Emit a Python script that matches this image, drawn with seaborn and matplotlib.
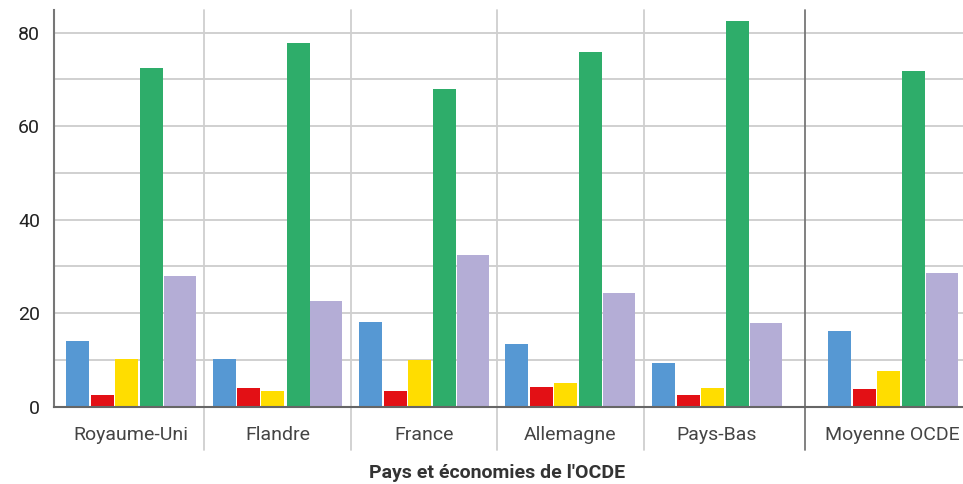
import pandas as pd
import seaborn as sns
import matplotlib.pyplot as plt

# Données
pays = ["Royaume-Uni", "Flandre", "France", "Allemagne", "Pays-Bas", "Moyenne OCDE"]
positions = [0, 1, 2, 3, 4, 5.2]   # Moyenne OCDE décalée
serie_bleue = [14.0, 10.2, 18.1, 13.4, 9.3, 16.2]
serie_rouge = [2.5, 4.0, 3.4, 4.3, 2.5, 3.8]
serie_jaune = [10.2, 3.4, 10.0, 5.1, 4.0, 7.6]
serie_verte = [72.4, 77.8, 67.9, 75.8, 82.5, 71.8]
serie_lavande = [27.9, 22.6, 32.4, 24.3, 17.9, 28.6]

series = [
    (serie_bleue, "#5698D3", -0.365, 0.157),
    (serie_rouge, "#E31015", -0.195, 0.157),
    (serie_jaune, "#FFDD00", -0.031, 0.157),
    (serie_verte, "#2EAD6A", 0.140, 0.157),
    (serie_lavande, "#B4ADD6", 0.334, 0.218),
]

sns.set_theme(style="white")
plt.rcParams['font.family'] = ['Roboto', 'DejaVu Sans']

fig = plt.figure(figsize=(9.63, 4.84), dpi=100)
ax = fig.add_axes([54 / 963, 1 - 406.7 / 484, 1 - 54 / 963, (406.7 - 10) / 484])

for valeurs, couleur, decalage, largeur in series:
    df = pd.DataFrame({"pos": [p + decalage for p in positions], "valeur": valeurs})
    sns.barplot(data=df, x="pos", y="valeur", native_scale=True, width=largeur,
                color=couleur, errorbar=None, linewidth=0, saturation=1, ax=ax, zorder=3)

ax.set_xlim(-0.526, 5.68)
ax.set_ylim(0, 84.85)

# grille horizontale
ax.set_yticks(range(0, 90, 10))
ax.set_yticklabels(["0", "", "20", "", "40", "", "60", "", "80"])
ax.yaxis.grid(True, color="#C8C8C8", linewidth=1.2, zorder=0)
ax.tick_params(axis="y", length=0, labelsize=14, labelcolor="#222222", pad=10)

# séparateurs de groupes
for s in [0.5, 1.5, 2.5, 3.5]:
    ax.axvline(s, ymin=-0.11, ymax=1, color="#CFCFCF", linewidth=1.3, clip_on=False, zorder=1)
ax.axvline(4.6, ymin=-0.11, ymax=1, color="#777777", linewidth=1.3, clip_on=False, zorder=1)

ax.set_xticks(positions)
ax.set_xticklabels(pays)
ax.tick_params(axis="x", length=0, labelsize=14, labelcolor="#444444", pad=14)
ax.set_xlabel("")
ax.set_ylabel("")

for side in ["top", "right"]:
    ax.spines[side].set_visible(False)
ax.spines["left"].set_color("#777777")
ax.spines["left"].set_linewidth(1.5)
ax.spines["bottom"].set_color("#666666")
ax.spines["bottom"].set_linewidth(1.5)
ax.spines["bottom"].set_zorder(4)

fig.text(497 / 963, 1 - 473 / 484, "Pays et économies de l'OCDE", ha="center", va="center",
         fontsize=14, fontweight="bold", color="#333333")

fig.savefig("out.png", dpi=100)
